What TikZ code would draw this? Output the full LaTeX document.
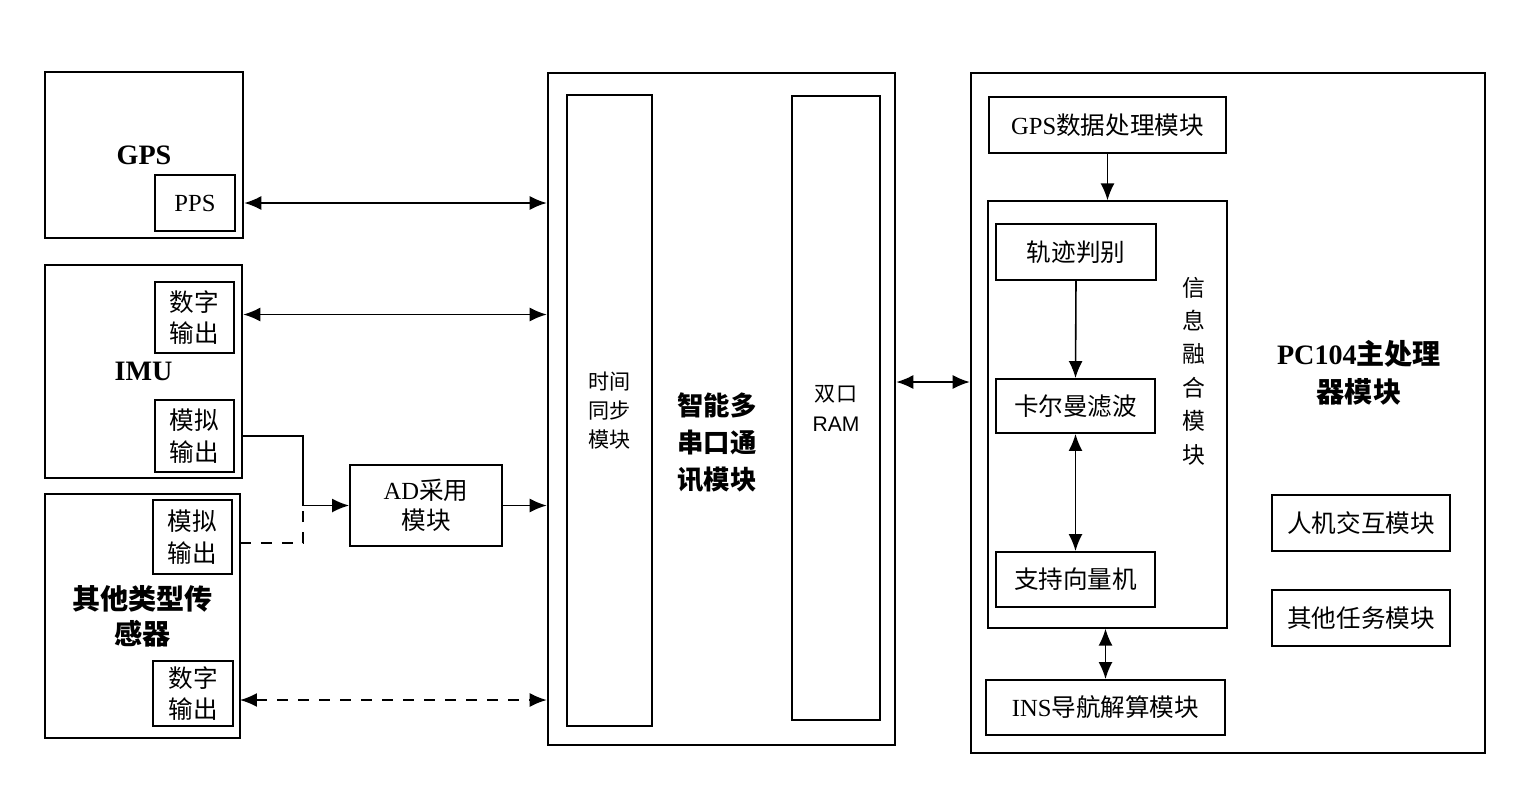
\documentclass[tikz,border=0pt]{standalone}
\usepackage{fontspec}
\setmainfont{Liberation Serif}
\newfontfamily\cjk{Noto Sans CJK SC}
\newfontfamily\sansf{Liberation Sans}
\usetikzlibrary{arrows.meta,calc}
\newcommand{\zh}[1]{{\cjk #1}}
\tikzset{
  thickbox/.style={draw=black,line width=1.5pt,rectangle,inner sep=0pt,align=center},
  box/.style={draw=black,line width=1.1pt,rectangle,inner sep=0pt,align=center,font=\fontsize{14}{18}\selectfont},
  thinbox/.style={draw=black,line width=0.8pt,rectangle,inner sep=0pt},
  tip/.style={},
  conn/.style={line width=0.9pt,-{Latex[length=3.4mm,width=2.8mm]}},
  biconn/.style={line width=0.9pt,{Latex[length=3.4mm,width=2.8mm]}-{Latex[length=3.4mm,width=2.8mm]}},
  dashline/.style={dash pattern=on 0.22cm off 0.2cm},
  plain/.style={line width=0.9pt},
  lbl/.style={inner sep=0pt,align=center}
}
\begin{document}
\begin{tikzpicture}[x=0.02cm,y=-0.02cm]
\useasboundingbox (0,0) rectangle (1518,788);
% left sensors
\node[thickbox,minimum width=3.96cm,minimum height=3.32cm,font=\fontsize{16}{20}\selectfont\bfseries] (gps) at (144,155) {GPS};
\node[box,minimum width=1.6cm,minimum height=1.12cm] (pps) at (195,203) {PPS};
\node[thickbox,minimum width=3.94cm,minimum height=4.26cm,font=\fontsize{16}{20}\selectfont\bfseries] (imu) at (143.5,371.5) {IMU};
\node[box,minimum width=1.58cm,minimum height=1.42cm] (imud) at (194.5,317.5) {\zh{数字}\\\zh{输出}};
\node[box,minimum width=1.58cm,minimum height=1.44cm] (imua) at (194.5,436) {\zh{模拟}\\\zh{输出}};
\node[thickbox,minimum width=3.9cm,minimum height=4.88cm,font=\fontsize{16}{20}\selectfont\cjk\bfseries] (oth) at (142.5,616) {其他类型传\\感器};
\node[box,minimum width=1.58cm,minimum height=1.48cm] (otha) at (192.5,537) {\zh{模拟}\\\zh{输出}};
\node[box,minimum width=1.6cm,minimum height=1.3cm] (othd) at (193,693.5) {\zh{数字}\\\zh{输出}};
\node[box,minimum width=3.04cm,minimum height=1.62cm,font=\fontsize{14}{17}\selectfont] (ad) at (426,505.5) {AD\zh{采用}\\\zh{模块}};
% middle
\node[thickbox,minimum width=6.94cm,minimum height=13.44cm] (mid) at (721.5,409) {};
\node[box,minimum width=1.7cm,minimum height=12.62cm,font=\fontsize{12}{16.5}\selectfont\cjk] (ts) at (609.5,410.5) {时间\\同步\\模块};
\node[box,minimum width=1.76cm,minimum height=12.48cm,font=\fontsize{12}{17}\selectfont] (ram) at (836,408) {\zh{双口}\\{\sansf RAM}};
\node[lbl,font=\fontsize{15}{21}\selectfont\cjk\bfseries] (midl) at (717,443) {智能多\\串口通\\讯模块};
% right
\node[thickbox,minimum width=10.28cm,minimum height=13.6cm] (pc) at (1228,413) {};
\node[box,minimum width=4.74cm,minimum height=1.12cm] (gpsp) at (1107.5,125) {GPS\zh{数据处理模块}};
\node[thinbox,minimum width=4.78cm,minimum height=8.54cm] (fus) at (1107.5,414.5) {};
\node[box,minimum width=3.2cm,minimum height=1.12cm] (trj) at (1076,252) {\zh{轨迹判别}};
\node[box,minimum width=3.18cm,minimum height=1.08cm] (kal) at (1075.5,406) {\zh{卡尔曼滤波}};
\node[box,minimum width=3.18cm,minimum height=1.1cm] (svm) at (1075.5,579.5) {\zh{支持向量机}};
\node[lbl,font=\fontsize{13}{19}\selectfont\cjk] (fusl) at (1194,371) {信\\息\\融\\合\\模\\块};
\node[box,minimum width=4.78cm,minimum height=1.1cm] (ins) at (1105.5,707.5) {INS\zh{导航解算模块}};
\node[lbl,font=\fontsize{16}{21.5}\selectfont\bfseries] (pcl) at (1359,373) {PC104\zh{主处理}\\\zh{器模块}};
\node[box,minimum width=3.56cm,minimum height=1.12cm] (hmi) at (1361,523) {\zh{人机交互模块}};
\node[box,minimum width=3.56cm,minimum height=1.12cm] (otk) at (1361,618) {\zh{其他任务模块}};
% connectors
\coordinate (j) at (303,505.5);
\coordinate (dd) at (240,543);
\coordinate (de) at (240,700);
\draw[biconn] (pps.east -| gps.east) -- (pps.east -| mid.west);
\draw[biconn] ([yshift=0.06cm]imud.east -| imu.east) -- ([yshift=0.06cm]imud.east -| mid.west);
\draw[plain] (imua.east -| imu.east) -| (j);
\draw[plain,dashline] (dd) -| (j);
\draw[conn] (j) -- (ad.west);
\draw[conn] (ad.east) -- (ad.east -| mid.west);
\draw[biconn,dashline] (de) -- (de -| mid.west);
\draw[biconn] ([yshift=0.54cm]mid.east) -- ([yshift=0.54cm]mid.east -| pc.west);
\draw[conn] (gpsp.south) -- (fus.north);
\draw[conn] (trj.south) -- (kal.north);
\draw[biconn] (kal.south) -- (svm.north);
\draw[biconn] (ins.north |- fus.south) -- (ins.north);
\end{tikzpicture}
\end{document}
